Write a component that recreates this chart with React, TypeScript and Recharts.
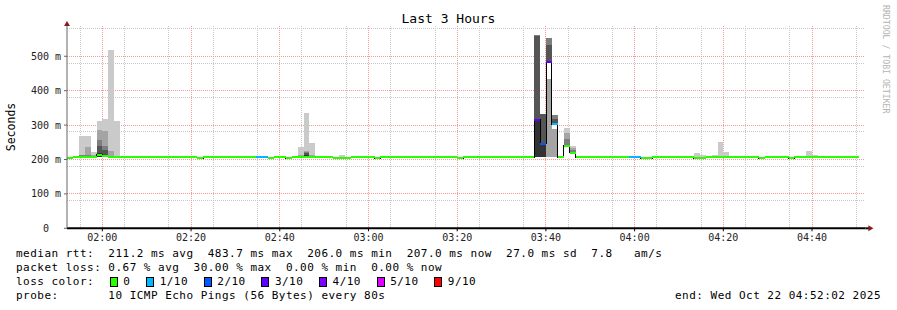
import React from 'react'
import { ComposedChart, Area, Line, XAxis, YAxis, CartesianGrid, ReferenceDot } from 'recharts'

// time axis in minutes of the day; one rrd row = 80 s
const START = 112 + 2 / 60 // 01:52:02
const END = START + 180 // 04:52:02
const STEP = 80 / 60

const timeTicks = [120, 140, 160, 180, 200, 220, 240, 260, 280]
const timeMinor = [115, 125, 130, 135, 145, 150, 155, 165, 170, 175, 185, 190, 195, 205, 210, 215,
  225, 230, 235, 245, 250, 255, 265, 270, 275, 285, 290]
const rttTicks = [0, 100, 200, 300, 400, 500]
const rttMinor = [20, 40, 60, 80, 120, 140, 160, 180, 220, 240, 260, 280, 320, 340, 360, 380,
  420, 440, 460, 480, 520, 540, 560, 580]

// median rtt (ms) per 80 s row, rows 0..133
const median = [
  204, 207, 207, 207, 207, 214, 210, 207, 207, 207,
  207, 207, 207, 207, 207, 207, 207, 207, 207, 207,
  207, 207, 204, 207, 207, 207, 207, 207, 207, 207,
  207, 207, 207, 207, 204, 207, 207, 204, 207, 207,
  207, 207, 207, 207, 207, 204, 204, 204, 207, 207,
  207, 207, 204, 207, 207, 207, 207, 207, 207, 207,
  207, 207, 207, 207, 207, 207, 204, 207, 207, 207,
  207, 207, 207, 207, 207, 207, 207, 207, 207, 315,
  246, 484, 303, 207, 240, 220, 207, 207, 207, 207,
  207, 207, 207, 207, 207, 207, 207, 204, 204, 207,
  207, 207, 207, 207, 207, 207, 204, 204, 207, 207,
  207, 207, 207, 207, 207, 207, 207, 204, 207, 207,
  207, 207, 204, 207, 207, 207, 207, 207, 207, 207,
  207, 207, 207, 207,
]
// lost pings out of 10, same rows
const loss = [
  0, 0, 0, 0, 0, 0, 0, 0, 0, 0,
  0, 0, 0, 0, 0, 0, 0, 0, 0, 0,
  0, 0, 0, 0, 0, 0, 0, 0, 0, 0,
  0, 0, 1, 1, 0, 0, 0, 0, 0, 0,
  0, 0, 0, 0, 0, 0, 0, 0, 0, 0,
  0, 0, 0, 0, 0, 0, 0, 0, 0, 0,
  0, 0, 0, 0, 0, 0, 0, 0, 0, 0,
  0, 0, 0, 0, 0, 0, 0, 0, 0, 3,
  2, 3, 1, 0, 0, 0, 0, 0, 0, 0,
  0, 0, 0, 0, 0, 1, 1, 0, 0, 0,
  0, 0, 0, 0, 0, 0, 0, 0, 0, 0,
  0, 0, 0, 0, 0, 0, 0, 0, 0, 0,
  0, 0, 0, 0, 0, 0, 0, 0, 0, 0,
  0, 0, 0, 0,
]

// smoke bands: [row, low ms, high ms], outer pair first
const smoke1 = [
  [2, 207, 267], [3, 207, 267], [4, 207, 222], [5, 207, 312], [6, 207, 318], [7, 207, 517], [8, 207, 312],
  [39, 207, 236], [40, 207, 335], [41, 207, 248], [46, 207, 213],
  [84, 240, 292], [85, 220, 240],
  [106, 207, 219], [107, 207, 213], [109, 207, 213], [110, 207, 250], [111, 207, 221],
  [125, 207, 225], [126, 207, 213],
]
const smoke2 = [
  [2, 207, 214], [3, 207, 236], [4, 207, 212], [5, 207, 285], [6, 207, 283], [7, 207, 224],
  [39, 207, 212], [40, 207, 226], [41, 207, 213],
  [81, 207, 434], [82, 207, 288], [84, 240, 276], [85, 220, 232],
]
const smoke3 = [
  [2, 207, 212], [3, 207, 214], [5, 207, 256], [6, 207, 238], [40, 207, 222],
  [79, 207, 562], [81, 484, 553], [82, 303, 329], [84, 240, 261], [85, 220, 227],
]
const smoke4 = [
  [3, 207, 211], [5, 207, 238], [6, 207, 227], [40, 207, 218],
  [79, 207, 559], [80, 207, 332], [81, 484, 532], [82, 303, 319],
]
const smoke5 = [
  [5, 207, 218], [6, 207, 214], [40, 207, 213], [79, 207, 315], [80, 207, 246],
]
const smokeGap = [
  [81, 434, 484], [82, 288, 303], [84, 207, 240], [85, 207, 220],
]

const lossLevels = [0, 1, 2, 3, 4, 5, 9]
const lossLabels = ['0', '1/10', '2/10', '3/10', '4/10', '5/10', '9/10']
const lossColors = ['#26ff00', '#00b8ff', '#0059ff', '#5e00ff', '#7e00ff', '#dd00ff', '#ff0000']

const rttStats = '211.2 ms avg  483.7 ms max  206.0 ms min  207.0 ms now  27.0 ms sd  7.8   am/s'
const lossStats = '0.67 % avg  30.00 % max  0.00 % min  0.00 % now'
const probeText = '10 ICMP Echo Pings (56 Bytes) every 80s'
const endText = 'end: Wed Oct 22 04:52:02 2025'

const MONO = '"DejaVu Sans Mono", "Liberation Mono", monospace'

type Pt = { t: number; v: number | number[] | null }

const rowTime = (k: number) => START + k * STEP

function bandData(rows: number[][]): Pt[] {
  const pts: Pt[] = []
  rows.forEach(([k, lo, hi], i) => {
    pts.push({ t: rowTime(k), v: [lo, hi] }, { t: rowTime(k + 1), v: [lo, hi] })
    const next = rows[i + 1]
    if (!next || next[0] !== k + 1) pts.push({ t: rowTime(k + 1), v: null })
  })
  return pts
}

// smokeping paints the median as short bars per row, so no vertical joins
function medianData(level?: number): Pt[] {
  const pts: Pt[] = []
  median.forEach((m, k) => {
    if (level !== undefined && loss[k] !== level) return
    pts.push({ t: rowTime(k), v: m }, { t: rowTime(k + 1), v: m })
    const joined = level === undefined || (loss[k + 1] === level && median[k + 1] === m)
    if (!joined) pts.push({ t: rowTime(k + 1), v: null })
  })
  return pts
}

const hhmm = (m: number) =>
  `${String(Math.floor(m / 60)).padStart(2, '0')}:${String(Math.round(m % 60)).padStart(2, '0')}`

function RttTick({ x, y, payload }: any) {
  const label = payload.value === 0 ? '  0  ' : `${payload.value} m`
  return (
    <text x={x} y={y} dy="0.35em" textAnchor="end" xmlSpace="preserve" style={{ whiteSpace: 'pre' }}
      fontFamily={MONO} fontSize={10} fill="#222">{label}</text>
  )
}

const smokeLayers = [
  { rows: smoke1, color: '#cacaca' },
  { rows: smoke2, color: '#a4a4a4' },
  { rows: smoke3, color: '#7e7e7e' },
  { rows: smoke4, color: '#555555' },
  { rows: smoke5, color: '#323232' },
  { rows: smokeGap, color: '#ffffff' },
]

const css = `
.recharts-area-area, .recharts-cartesian-grid line, .recharts-line-curve { shape-rendering: crispEdges; }
`

const textStyle: React.CSSProperties = {
  position: 'absolute', left: 16, fontFamily: MONO, fontSize: 11, letterSpacing: '0.48px',
  lineHeight: '14px', whiteSpace: 'pre', color: '#000',
}

export default function App() {
  return (
    <div style={{ position: 'absolute', left: 0, top: 0, width: 897, height: 310, background: '#fff' }}>
      <style>{css}</style>
      <div style={{ position: 'absolute', left: 0, top: 11, width: 897, textAlign: 'center', fontFamily: MONO, fontSize: 13, lineHeight: '16px' }}>
        Last 3 Hours
      </div>
      <div style={{ position: 'absolute', left: 11, top: 127, transform: 'translate(-50%, -50%) rotate(-90deg)', fontFamily: MONO, fontSize: 11.5, whiteSpace: 'nowrap' }}>
        Seconds
      </div>
      <div style={{ position: 'absolute', left: 881, top: 5, writingMode: 'vertical-rl', fontFamily: MONO, fontSize: 8.2, color: '#b4b4b4', whiteSpace: 'pre' }}>
        RRDTOOL / TOBI OETIKER
      </div>

      <ComposedChart width={897} height={310} margin={{ top: 26, right: 31.6, bottom: 51.7, left: 0 }}>
        <CartesianGrid horizontalValues={rttMinor} verticalValues={timeMinor} stroke="#c8c8c8" strokeDasharray="1 1" />
        <CartesianGrid horizontalValues={rttTicks} verticalValues={timeTicks} stroke="#f39a9a" strokeDasharray="1 1" />
        <XAxis
          type="number"
          dataKey="t"
          domain={[START, END]}
          allowDataOverflow
          ticks={timeTicks}
          tickFormatter={hhmm}
          height={30}
          tickSize={3}
          tickMargin={3}
          axisLine={{ stroke: '#000', strokeWidth: 2 }}
          tickLine={{ stroke: '#000' }}
          tick={{ fontFamily: MONO, fontSize: 10, fill: '#222' }}
        />
        <YAxis
          type="number"
          domain={[0, 588]}
          allowDataOverflow
          ticks={rttTicks}
          width={67}
          tickSize={3}
          tickMargin={3}
          axisLine={{ stroke: '#666' }}
          tickLine={{ stroke: '#666' }}
          tick={<RttTick />}
        />
        {smokeLayers.map((layer, i) => (
          <Area
            key={i}
            data={bandData(layer.rows)}
            dataKey="v"
            type="linear"
            fill={layer.color}
            fillOpacity={1}
            stroke="none"
            dot={false}
            activeDot={false}
            isAnimationActive={false}
          />
        ))}
        <Line data={medianData()} dataKey="v" type="linear" stroke="#000" strokeWidth={1}
          dot={false} activeDot={false} isAnimationActive={false} />
        {lossLevels.map((lv, i) => (
          <Line
            key={lv}
            data={medianData(lv)}
            dataKey="v"
            type="linear"
            stroke={lossColors[i]}
            strokeWidth={2}
            dot={false}
            activeDot={false}
            isAnimationActive={false}
          />
        ))}
        <ReferenceDot
          x={END}
          y={0}
          ifOverflow="visible"
          shape={(p: any) => (
            <g>
              <line x1={p.cx} x2={p.cx + 4} y1={p.cy} y2={p.cy} stroke="#000" strokeWidth={2} />
              <polygon points={`${p.cx + 3},${p.cy - 3} ${p.cx + 8},${p.cy} ${p.cx + 3},${p.cy + 3}`} fill="#8b1a1a" />
            </g>
          )}
        />
        <ReferenceDot
          x={START}
          y={588}
          ifOverflow="visible"
          shape={(p: any) => (
            <polygon points={`${p.cx - 3},${p.cy} ${p.cx},${p.cy - 5} ${p.cx + 3},${p.cy}`} fill="#8b1a1a" />
          )}
        />
      </ComposedChart>

      <div style={{ ...textStyle, top: 247 }}>{'median rtt:  ' + rttStats}</div>
      <div style={{ ...textStyle, top: 261 }}>{'packet loss: ' + lossStats}</div>
      <div style={{ ...textStyle, top: 275, display: 'flex', alignItems: 'center' }}>
        <span>{'loss color:  '}</span>
        {lossLabels.map((lab, i) => (
          <React.Fragment key={lab}>
            <span style={{ display: 'inline-block', width: 6, height: 8, border: '1px solid #000', background: lossColors[i], marginLeft: 1.5, marginRight: 5.5 }} />
            <span>{lab + (i < lossLabels.length - 1 ? '  ' : '')}</span>
          </React.Fragment>
        ))}
      </div>
      <div style={{ ...textStyle, top: 289 }}>{'probe:       ' + probeText}</div>
      <div style={{ ...textStyle, top: 289, left: 'auto', right: 16 }}>{endText}</div>
    </div>
  )
}
